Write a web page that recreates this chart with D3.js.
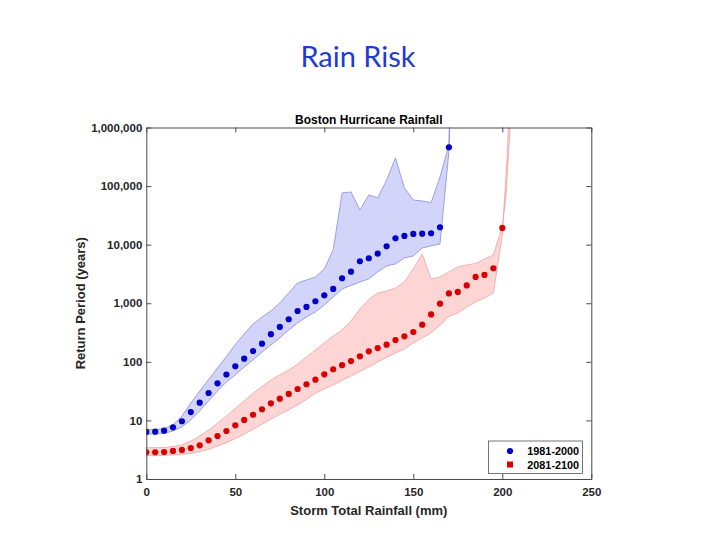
<!DOCTYPE html>
<html><head><meta charset="utf-8">
<script src="https://cdn.jsdelivr.net/npm/d3@7"></script>
<style>body{margin:0;background:#fff;} svg{display:block;}</style>
</head><body><svg id="c" width="720" height="540"></svg>
<script>
// ---------------- data ----------------
const pageTitle = "Rain Risk";
const chartTitle = "Boston Hurricane Rainfall";
const xLabel = "Storm Total Rainfall (mm)";
const yLabel = "Return Period (years)";
const xTicks = [0, 50, 100, 150, 200, 250];
const yTicks = [1, 10, 100, 1000, 10000, 100000, 1000000];
const seriesNames = ["1981-2000", "2081-2100"];

// 1981-2000 (blue): rainfall grid 0..170 mm
const blueX = [0,5,10,15,20,25,30,35,40,45,50,55,60,65,70,75,80,85,90,95,100,105,110,115,120,125,130,135,140,145,150,155,160,165,170];
const blueDots = [6.35,6.42,6.68,7.63,9.67,13.9,20.1,29.4,43,60.8,84,113,153,204,296,394,533,738,864,1082,1369,1753,2671,3462,5210,5867,7030,9400,12870,14090,15240,15420,15670,19820,460000];
const blueUpper = [7.0,7.0,7.28,8.36,11.9,19.8,31.8,50,78.5,123,198,299,443,583,738,1012,1500,2220,2500,2810,3850,8130,76400,79400,39200,70600,62800,127000,302000,93000,58000,55700,52200,143000,505000];
const blueLower = [5.87,5.87,5.98,6.6,7.73,10.2,14.5,21.5,31.8,45.3,59.7,81.7,108,147,194,256,350,461,583,710,935,1280,1750,2010,2310,2600,3420,4330,4690,5930,6420,8790,9510,10300,383000];
const blueUpperTailX = [170.6], blueUpperTail = [3000000];
const blueLowerTailX = [171.0], blueLowerTail = [3000000];

// 2081-2100 (red): rainfall grid 0..200 mm
const redX = [0,5,10,15,20,25,30,35,40,45,50,55,60,65,70,75,80,85,90,95,100,105,110,115,120,125,130,135,140,145,150,155,160,165,170,175,180,185,190,195,200];
const redDots = [2.86,2.86,2.89,3.01,3.13,3.38,3.76,4.58,5.42,6.60,8.26,10.2,12.5,15.5,19.6,23.5,28.3,34.4,41.4,49.6,61.3,74.7,87.7,103,124,151,172,196,236,273,323,431,644,984,1469,1560,2014,2812,3041,3957,19300];
const redUpper = [3.42,3.42,3.45,3.59,3.81,4.45,5.42,6.86,8.93,11.9,16.1,21.5,29.1,37.7,49,59.7,72.6,91.9,121,159,210,277,350,499,799,1160,1500,1620,1820,2310,3850,6950,2600,2810,3420,4170,4510,4780,5700,6670,20900];
const redLower = [2.50,2.50,2.54,2.57,2.64,2.75,2.92,3.21,3.66,4.17,4.88,5.87,7.06,8.59,10.5,12.7,15.1,18.3,22.9,29.1,34.4,40.3,48.1,57.4,68.4,81.7,99.5,119,142,166,210,256,311,426,595,683,864,1052,1231,1500,14700];
const redUpperTailX = [202.1, 204.3, 204.6], redUpperTail = [66000, 910000, 3000000];
const redLowerTailX = [202.8, 203.4, 203.6], redLowerTail = [364000, 1030000, 3000000];

// ---------------- drawing ----------------
const svg = d3.select("#c");
const L = 146.3, R = 591.3, T = 127.5, B = 479;
const x = d3.scaleLinear().domain([0, 250]).range([L, R]);
const y = d3.scaleLog().domain([1, 1e6]).range([B, T]);
const axisColor = "#4a4a4a";
const textColor = "#262626";
const font = "'Liberation Sans', Arial, sans-serif";

svg.append("text").attr("x", 358).attr("y", 67).attr("text-anchor", "middle")
  .attr("font-family", "Lato, 'Open Sans', sans-serif").attr("font-size", 29)
  .attr("fill", "#1f3bd0").text(pageTitle);

svg.append("defs").append("clipPath").attr("id", "plotclip")
  .append("rect").attr("x", L).attr("y", T).attr("width", R - L).attr("height", B - T);

function bandPoints(xs, up, lo, upTX, upT, loTX, loT) {
  const top = xs.map((d, i) => [d, up[i]]).concat(upTX.map((d, i) => [d, upT[i]]));
  const bot = xs.map((d, i) => [d, lo[i]]).concat(loTX.map((d, i) => [d, loT[i]]));
  return top.concat(bot.reverse());
}
const line = d3.line().x(d => x(d[0])).y(d => y(d[1]));
const g = svg.append("g").attr("clip-path", "url(#plotclip)");

g.append("path")
  .attr("d", line(bandPoints(redX, redUpper, redLower, redUpperTailX, redUpperTail, redLowerTailX, redLowerTail)) + "Z")
  .attr("fill", "#fdd5d5").attr("stroke", "#eea3a3").attr("stroke-width", 0.8);
g.append("path")
  .attr("d", line(bandPoints(blueX, blueUpper, blueLower, blueUpperTailX, blueUpperTail, blueLowerTailX, blueLowerTail)) + "Z")
  .attr("fill", "#d3d4fa").attr("stroke", "#8a8bd4").attr("stroke-width", 0.8);

g.selectAll("circle.blue").data(blueX).enter().append("circle")
  .attr("cx", d => x(d)).attr("cy", (d, i) => y(blueDots[i])).attr("r", 3.1).attr("fill", "#0000c8");
g.selectAll("circle.red").data(redX).enter().append("circle")
  .attr("cx", d => x(d)).attr("cy", (d, i) => y(redDots[i])).attr("r", 3.1).attr("fill", "#d80000");

// axes
function styleAxis(sel) {
  sel.selectAll("path.domain").attr("stroke", axisColor);
  sel.selectAll(".tick line").attr("stroke", axisColor);
  sel.selectAll(".tick text").attr("fill", textColor).attr("font-family", font)
    .attr("font-size", 11.5).attr("font-weight", "bold");
}
const xb = svg.append("g").attr("transform", `translate(0,${B})`)
  .call(d3.axisBottom(x).tickValues(xTicks).tickSizeInner(-5).tickSizeOuter(0).tickPadding(9).tickFormat(d3.format("d")));
styleAxis(xb);
const xt = svg.append("g").attr("transform", `translate(0,${T})`)
  .call(d3.axisTop(x).tickValues(xTicks).tickSizeInner(-5).tickSizeOuter(0).tickFormat(""));
styleAxis(xt);
const yl = svg.append("g").attr("transform", `translate(${L},0)`)
  .call(d3.axisLeft(y).tickValues(yTicks).tickSizeInner(-5).tickSizeOuter(0).tickPadding(4).tickFormat(d3.format(",")));
styleAxis(yl);
const yr = svg.append("g").attr("transform", `translate(${R},0)`)
  .call(d3.axisRight(y).tickValues(yTicks).tickSizeInner(-5).tickSizeOuter(0).tickFormat(""));
styleAxis(yr);

// titles
svg.append("text").attr("x", (L + R) / 2).attr("y", 124).attr("text-anchor", "middle")
  .attr("font-family", font).attr("font-weight", "bold").attr("font-size", 12).attr("fill", "#000")
  .text(chartTitle);
svg.append("text").attr("x", (L + R) / 2).attr("y", 515).attr("text-anchor", "middle")
  .attr("font-family", font).attr("font-weight", "bold").attr("font-size", 13).attr("fill", textColor)
  .text(xLabel);
svg.append("text").attr("transform", `translate(85,${(T + B) / 2}) rotate(-90)`).attr("text-anchor", "middle")
  .attr("font-family", font).attr("font-weight", "bold").attr("font-size", 13).attr("fill", textColor)
  .text(yLabel);

// legend
const lg = svg.append("g");
lg.append("rect").attr("x", 488.5).attr("y", 441).attr("width", 94).attr("height", 32.5)
  .attr("fill", "#fff").attr("stroke", "#555").attr("stroke-width", 0.8);
lg.append("circle").attr("cx", 510).attr("cy", 451).attr("r", 3.1).attr("fill", "#0000c8");
lg.append("rect").attr("x", 507).attr("y", 461.5).attr("width", 6).attr("height", 6).attr("fill", "#d80000");
lg.selectAll("text.lg").data(seriesNames).enter().append("text")
  .attr("x", 579).attr("y", (d, i) => 455 + i * 13.8).attr("text-anchor", "end")
  .attr("font-family", font).attr("font-weight", "bold").attr("font-size", 10.8).attr("fill", "#000")
  .text(d => d);
</script></body></html>
